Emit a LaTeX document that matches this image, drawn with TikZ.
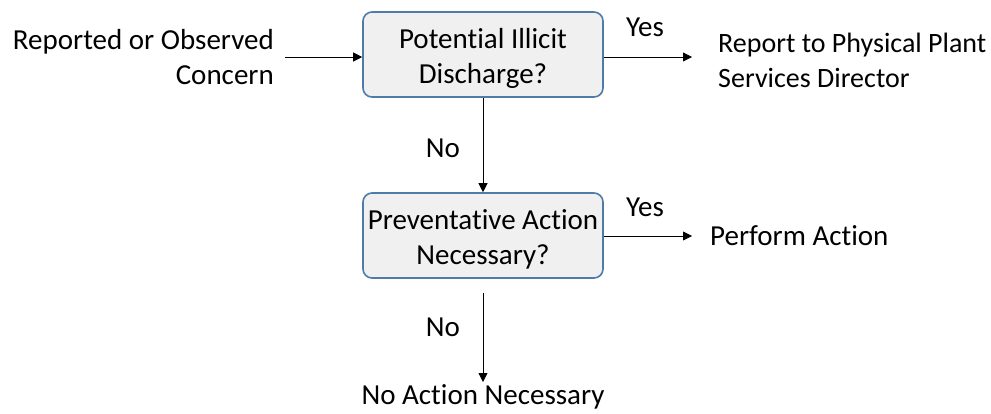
\documentclass[tikz,border=0pt]{standalone}
\usepackage{fontspec}
\setmainfont[Ligatures={NoCommon,NoRare}]{Carlito}
\usetikzlibrary{arrows.meta}
\begin{document}
\begin{tikzpicture}[x=1pt,y=-1pt,
  txt/.style={font=\fontsize{29}{35}\selectfont, inner sep=0pt, align=center},
  dec/.style={txt, draw=boxblue, line width=1.6pt, fill=boxfill, rounded corners=9pt,
     minimum width=240pt, minimum height=85pt},
  conn/.style={-{Triangle[length=9pt,width=9pt]}, line width=0.8pt}]
\definecolor{boxblue}{HTML}{4F7BA7}
\definecolor{boxfill}{HTML}{F0F0F0}
\useasboundingbox (0,0) rectangle (991,413);
\node[dec] (q1) at (483,54.5) {\rule{0pt}{28pt}Potential Illicit\\Discharge?};
\node[dec] (q2) at (483,235.5) {\rule{0pt}{28pt}Preventative Action\\Necessary?};
\node[txt, align=right, anchor=east] (start) at (274,57) {Reported or Observed\\Concern};
\node[txt, align=left, anchor=west, font=\fontsize{28}{35}\selectfont] (rep) at (718,60) {Report to Physical Plant\\Services Director};
\node[txt, anchor=west] (perf) at (710,236) {Perform Action};
\node[txt] (noact) at (483,397) {No Action Necessary};
\coordinate (s1) at (285,57);
\coordinate (e1) at (692,57);
\coordinate (e2) at (692,236);
\coordinate (d2) at (483,293);
\coordinate (d3) at (483,382);
\draw[conn] (s1) -- (q1.west |- s1);
\draw[conn] (q1.east |- e1) -- (e1);
\draw[conn] (q1.south) -- (q2.north);
\draw[conn] (q2.east |- e2) -- (e2);
\draw[conn] (d2) -- (d3);
\node[txt] at (645,27) {Yes};
\node[txt] at (645,207) {Yes};
\node[txt] at (443,148) {No};
\node[txt] at (443,327) {No};
\end{tikzpicture}
\end{document}
